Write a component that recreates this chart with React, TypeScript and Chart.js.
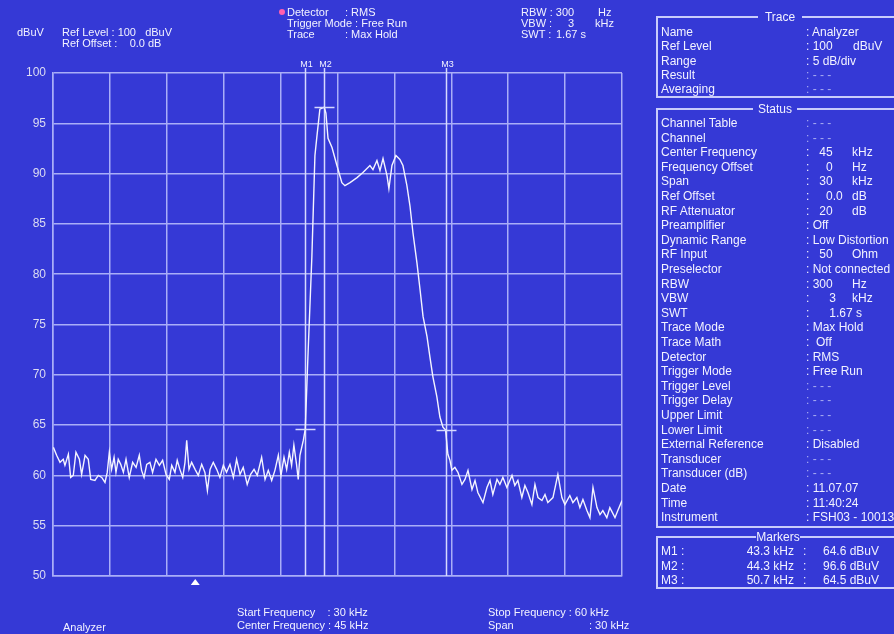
import React, { useEffect, useRef } from "react";
import { Chart, registerables } from "chart.js";

Chart.register(...registerables);

// ---------- data ----------
const freqKHz = [
  30.02, 30.19, 30.37, 30.54, 30.63, 30.81, 30.93, 31.07, 31.21, 31.39, 31.51, 31.69, 31.86, 31.99,
  32.21, 32.39, 32.57, 32.74, 32.86, 32.97, 33.09, 33.22, 33.32, 33.44, 33.57, 33.71, 33.85, 34.02,
  34.2, 34.38, 34.55, 34.67, 34.8, 34.94, 35.11, 35.25, 35.43, 35.61, 35.78, 35.96, 36.13, 36.26,
  36.43, 36.55, 36.69, 36.84, 36.96, 37.05, 37.17, 37.31, 37.49, 37.66, 37.84, 38.01, 38.14, 38.28,
  38.45, 38.63, 38.8, 38.98, 39.15, 39.33, 39.51, 39.68, 39.86, 40.03, 40.24, 40.42, 40.6, 40.77,
  41.0, 41.18, 41.35, 41.53, 41.7, 41.88, 42.02, 42.18, 42.32, 42.46, 42.58, 42.7, 42.84, 42.93,
  43.02, 43.2, 43.3,
  43.44, 43.65, 43.81, 43.92, 44.07, 44.3, 44.39, 44.5, 44.71, 44.97, 45.23, 45.39, 45.66, 46.03,
  46.34, 46.71, 46.87, 47.08, 47.24, 47.4, 47.61, 47.71, 47.87, 48.08, 48.29, 48.45, 48.66, 48.82,
  48.98, 49.19, 49.35, 49.51, 49.72, 49.87, 50.03, 50.24, 50.4, 50.56, 50.7,
  50.77, 50.82, 50.93, 51.03, 51.19, 51.35, 51.56, 51.72, 51.88, 52.09, 52.25, 52.4, 52.67, 52.88,
  53.04, 53.19, 53.41, 53.56, 53.72, 53.93, 54.2, 54.35, 54.51, 54.72, 54.88, 55.04, 55.25, 55.41,
  55.57, 55.78, 55.94, 56.09, 56.36, 56.62, 56.83, 56.99, 57.25, 57.41, 57.62, 57.78, 57.94, 58.15,
  58.31, 58.47, 58.68, 58.84, 58.99, 59.2, 59.36, 59.63, 59.78, 60.0,
];
const levelDbuV = [
  62.8, 62.0, 61.3, 61.6, 61.0, 62.1, 59.8, 60.0, 62.3, 61.6, 60.1, 62.0, 61.6, 59.6,
  59.5, 60.0, 59.8, 59.3, 60.3, 62.3, 60.6, 61.8, 60.3, 61.6, 61.1, 60.3, 61.6, 59.8,
  61.3, 60.8, 62.0, 60.5, 59.8, 61.1, 61.3, 60.3, 61.6, 61.0, 61.5, 60.1, 59.6, 61.0,
  60.3, 61.5, 60.6, 59.8, 61.3, 63.5, 60.6, 61.3, 60.6, 60.0, 61.1, 60.3, 58.5, 60.6,
  61.3, 60.6, 59.8, 61.0, 60.3, 61.1, 59.8, 61.6, 60.1, 60.8, 59.1, 60.1, 60.6, 60.0,
  61.8, 59.6, 60.5, 59.5, 60.5, 62.0, 60.0, 61.8, 60.6, 62.3, 61.0, 63.0, 61.1, 59.6,
  62.0, 63.5, 64.6,
  71.8, 81.8, 91.8, 93.8, 96.4, 96.6, 96.0, 93.5, 92.6, 90.8, 89.1, 88.8, 89.1, 89.6,
  90.1, 90.8, 90.4, 91.3, 90.3, 91.5, 89.8, 88.5, 90.8, 91.8, 91.4, 90.8, 88.8, 86.8,
  84.1, 81.1, 78.5, 75.8, 73.8, 71.8, 69.8, 67.8, 65.8, 64.8, 64.5,
  63.1, 62.1, 61.5, 60.5, 60.8, 60.3, 59.1, 59.6, 60.5, 58.6, 59.5, 58.3, 57.3, 58.8,
  59.5, 58.1, 59.6, 59.1, 59.8, 58.8, 60.0, 59.0, 59.5, 57.8, 59.0, 58.3, 57.1, 59.1,
  57.8, 57.5, 58.1, 57.3, 57.8, 60.1, 57.8, 57.1, 58.0, 57.3, 57.8, 56.8, 57.6, 56.5,
  55.8, 58.8, 56.8, 56.1, 56.5, 55.8, 56.8, 55.8, 56.5, 57.5,
];

const markerNames = ["M1", "M2", "M3"];
const markerFreqKHz = [43.3, 44.3, 50.7];
const markerLevelDbuV = [64.6, 96.6, 64.5];
const pointerKHz = 37.5;

const xMinKHz = 30;
const xMaxKHz = 60;
const xStepKHz = 3;
const yMinDb = 50;
const yMaxDb = 100;
const yStepDb = 5;

const traceLabels = ["Name", "Ref Level", "Range", "Result", "Averaging"];
const traceValues = [": Analyzer", ": 100", ": 5 dB/div", ": - - -", ": - - -"];
const traceUnits = ["", "dBuV", "", "", ""];

const statusLabels = [
  "Channel Table", "Channel", "Center Frequency", "Frequency Offset", "Span", "Ref Offset",
  "RF Attenuator", "Preamplifier", "Dynamic Range", "RF Input", "Preselector", "RBW", "VBW",
  "SWT", "Trace Mode", "Trace Math", "Detector", "Trigger Mode", "Trigger Level", "Trigger Delay",
  "Upper Limit", "Lower Limit", "External Reference", "Transducer", "Transducer (dB)", "Date",
  "Time", "Instrument",
];
const statusValues = [
  ": - - -", ": - - -", ":   45", ":     0", ":   30", ":     0.0", ":   20", ": Off",
  ": Low Distortion", ":   50", ": Not connected", ": 300", ":      3", ":      1.67 s",
  ": Max Hold", ":  Off", ": RMS", ": Free Run", ": - - -", ": - - -", ": - - -", ": - - -",
  ": Disabled", ": - - -", ": - - -", ": 11.07.07", ": 11:40:24", ": FSH03 - 100138",
];
const statusUnits = [
  "", "", "kHz", "Hz", "kHz", "dB", "dB", "", "", "Ohm", "", "Hz", "kHz", "", "", "", "", "",
  "", "", "", "", "", "", "", "", "", "",
];

const markerRowFreq = ["43.3 kHz", "44.3 kHz", "50.7 kHz"];
const markerRowLevel = ["64.6 dBuV", "96.6 dBuV", "64.5 dBuV"];

// ---------- styles ----------
const BG = "#3539d6";
const GRID = "#a9aef8";
const MARK = "#d6d9ff";
const TEXT = "#f2f2ff";
const DIM = "#a9adf2";
const FONT = '"Liberation Sans", Arial, sans-serif';

type TProps = {
  x: number;
  y: number;
  s: string;
  size?: number;
  color?: string;
  right?: boolean;
  bg?: string;
};

function T({ x, y, s, size = 12, color = TEXT, right = false, bg }: TProps) {
  const style: React.CSSProperties = {
    position: "absolute",
    top: y - 7,
    lineHeight: "14px",
    fontSize: size,
    fontFamily: FONT,
    color,
    whiteSpace: "pre",
    background: bg,
  };
  if (right) style.right = 894 - x;
  else style.left = x;
  return <div style={style}>{s}</div>;
}

function Box({ top, height, title, titleX }: { top: number; height: number; title: string; titleX: number }) {
  return (
    <>
      <div
        style={{
          position: "absolute",
          left: 656,
          top,
          width: 260,
          height,
          border: "2px solid #c9ccfb",
          boxSizing: "border-box",
        }}
      />
      <div
        style={{
          position: "absolute",
          left: titleX - 22,
          width: 44,
          textAlign: "center",
          top: top - 6,
          lineHeight: "14px",
          fontSize: 12,
          fontFamily: FONT,
          color: TEXT,
          background: BG,
        }}
      >
        {title}
      </div>
    </>
  );
}

const markerPlugin = {
  id: "markerPlugin",
  beforeDatasetsDraw(chart: any) {
    const { ctx, chartArea, scales } = chart;
    const xs = scales.x;
    ctx.save();
    ctx.strokeStyle = MARK;
    ctx.lineWidth = 1.5;
    markerFreqKHz.forEach((f) => {
      const px = Math.round(xs.getPixelForValue(f)) + 0.5;
      ctx.beginPath();
      ctx.moveTo(px, chartArea.top - 5);
      ctx.lineTo(px, chartArea.bottom);
      ctx.stroke();
    });
    ctx.restore();
  },
  afterDatasetsDraw(chart: any) {
    const { ctx, chartArea, scales } = chart;
    const xs = scales.x;
    const ys = scales.y;
    ctx.save();
    ctx.strokeStyle = MARK;
    ctx.lineWidth = 1.5;
    markerFreqKHz.forEach((f, i) => {
      const px = Math.round(xs.getPixelForValue(f)) + 0.5;
      const py = Math.round(ys.getPixelForValue(markerLevelDbuV[i])) + 0.5;
      ctx.beginPath();
      ctx.moveTo(px - 10, py);
      ctx.lineTo(px + 10, py);
      ctx.stroke();
      ctx.fillStyle = TEXT;
      ctx.font = '9px "Liberation Sans", Arial, sans-serif';
      ctx.textAlign = "center";
      ctx.textBaseline = "middle";
      ctx.fillText(markerNames[i], px + 1, chartArea.top - 8);
    });
    const tx = xs.getPixelForValue(pointerKHz);
    const ty = chartArea.bottom + 3;
    ctx.fillStyle = "#ffffff";
    ctx.beginPath();
    ctx.moveTo(tx, ty);
    ctx.lineTo(tx - 4.5, ty + 6);
    ctx.lineTo(tx + 4.5, ty + 6);
    ctx.closePath();
    ctx.fill();
    ctx.restore();
  },
};

export default function App() {
  const canvasRef = useRef<HTMLCanvasElement | null>(null);

  useEffect(() => {
    const canvas = canvasRef.current;
    if (!canvas) return;
    const chart = new Chart(canvas, {
      type: "line",
      data: {
        datasets: [
          {
            data: freqKHz.map((f, i) => ({ x: f, y: levelDbuV[i] })),
            borderColor: "#f4f4ff",
            borderWidth: 1.4,
            pointRadius: 0,
            tension: 0,
            fill: false,
          },
        ],
      },
      options: {
        animation: false,
        responsive: false,
        maintainAspectRatio: false,
        layout: { padding: { left: 0, top: 73, right: 272, bottom: 58 } },
        plugins: { legend: { display: false }, tooltip: { enabled: false } },
        scales: {
          x: {
            type: "linear",
            min: xMinKHz,
            max: xMaxKHz,
            ticks: { stepSize: xStepKHz, display: false },
            grid: { color: GRID, lineWidth: 1.5, drawTicks: false },
            border: { display: true, color: GRID, width: 1.5 },
            afterFit: (s: any) => {
              s.height = 0;
            },
          },
          y: {
            type: "linear",
            min: yMinDb,
            max: yMaxDb,
            ticks: {
              stepSize: yStepDb,
              color: "#dcdcf2",
              font: { family: '"Liberation Sans", Arial, sans-serif', size: 12 },
              padding: 7,
            },
            grid: { color: GRID, lineWidth: 1.5, drawTicks: false },
            border: { display: true, color: GRID, width: 1.5 },
            afterFit: (s: any) => {
              s.width = 53;
            },
          },
        },
      },
      plugins: [markerPlugin],
    });
    return () => chart.destroy();
  }, []);

  const statusTop = 123;
  const statusStep = 14.6;

  return (
    <div
      style={{
        position: "absolute",
        left: 0,
        top: 0,
        width: 894,
        height: 634,
        background: BG,
        overflow: "hidden",
      }}
    >
      <canvas ref={canvasRef} width={894} height={634} style={{ position: "absolute", left: 0, top: 0, width: 894, height: 634 }} />

      {/* header */}
      <T x={17} y={32} s="dBuV" size={11} />
      <T x={62} y={32} s="Ref Level : 100   dBuV" size={11} />
      <T x={62} y={43} s="Ref Offset :    0.0 dB" size={11} />
      <div style={{ position: "absolute", left: 279, top: 9, width: 6, height: 6, borderRadius: 3, background: "#ff5fae" }} />
      <T x={287} y={12} s="Detector" size={11} />
      <T x={345} y={12} s=": RMS" size={11} />
      <T x={287} y={23} s="Trigger Mode : Free Run" size={11} />
      <T x={287} y={34} s="Trace" size={11} />
      <T x={345} y={34} s=": Max Hold" size={11} />
      <T x={521} y={12} s="RBW : 300" size={11} />
      <T x={598} y={12} s="Hz" size={11} />
      <T x={521} y={23} s="VBW :" size={11} />
      <T x={568} y={23} s="3" size={11} />
      <T x={595} y={23} s="kHz" size={11} />
      <T x={521} y={34} s="SWT :" size={11} />
      <T x={556} y={34} s="1.67 s" size={11} />

      {/* footer */}
      <T x={63} y={627} s="Analyzer" size={11} />
      <T x={237} y={612} s="Start Frequency    : 30 kHz" size={11} />
      <T x={237} y={625} s="Center Frequency : 45 kHz" size={11} />
      <T x={488} y={612} s="Stop Frequency : 60 kHz" size={11} />
      <T x={488} y={625} s="Span" size={11} />
      <T x={589} y={625} s=": 30 kHz" size={11} />

      {/* right panel */}
      <Box top={16} height={82} title="Trace" titleX={780} />
      {traceLabels.map((l, i) => (
        <React.Fragment key={"t" + i}>
          <T x={661} y={32 + i * 14.3} s={l} />
          <T x={806} y={32 + i * 14.3} s={traceValues[i]} color={traceValues[i].includes("- - -") ? DIM : TEXT} />
          {traceUnits[i] && <T x={853} y={32 + i * 14.3} s={traceUnits[i]} />}
        </React.Fragment>
      ))}

      <Box top={108} height={420} title="Status" titleX={775} />
      {statusLabels.map((l, i) => (
        <React.Fragment key={"s" + i}>
          <T x={661} y={statusTop + i * statusStep} s={l} />
          <T
            x={806}
            y={statusTop + i * statusStep}
            s={statusValues[i]}
            color={statusValues[i].includes("- - -") ? DIM : TEXT}
          />
          {statusUnits[i] && <T x={852} y={statusTop + i * statusStep} s={statusUnits[i]} />}
        </React.Fragment>
      ))}

      <Box top={536} height={53} title="Markers" titleX={778} />
      {markerNames.map((m, i) => (
        <React.Fragment key={"m" + i}>
          <T x={661} y={551 + i * 14.5} s={m + " :"} />
          <T x={794} y={551 + i * 14.5} s={markerRowFreq[i]} right />
          <T x={803} y={551 + i * 14.5} s=":" />
          <T x={823} y={551 + i * 14.5} s={markerRowLevel[i]} />
        </React.Fragment>
      ))}
    </div>
  );
}
